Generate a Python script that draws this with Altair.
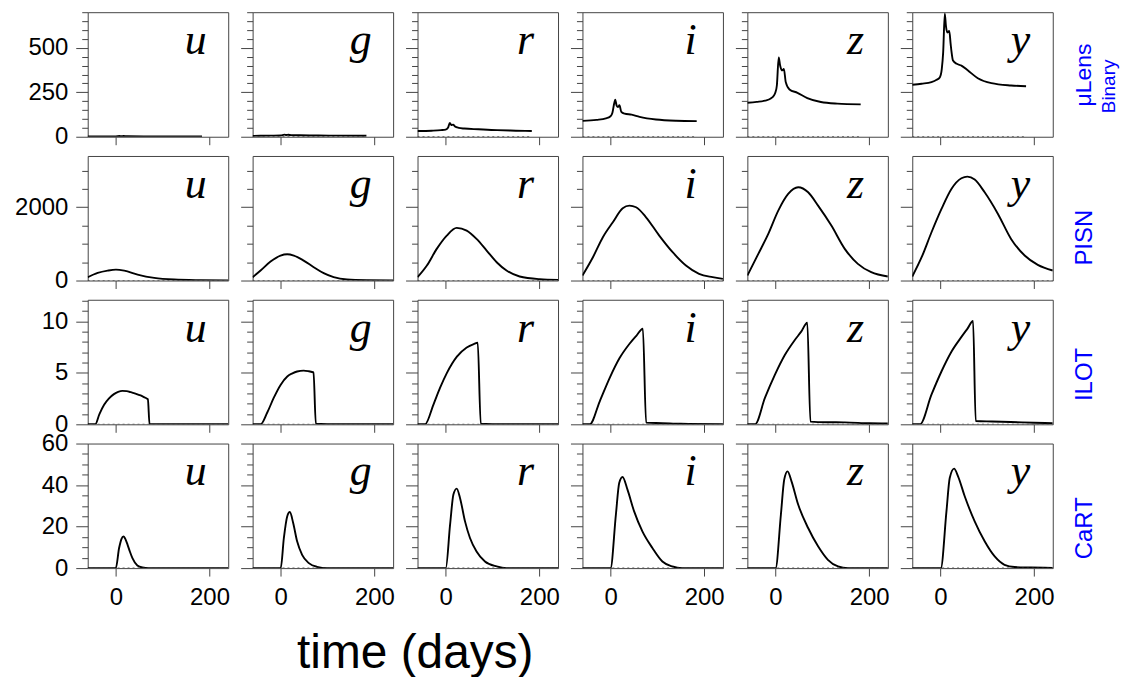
import altair as alt
import pandas as pd

bands = ["u", "g", "r", "i", "z", "y"]
row_labels = ["μLens", "PISN", "ILOT", "CaRT"]
row_sublabel = "Binary"
x_title = "time (days)"

x_domain = [-60, 240]
x_ticks = [0, 200]

y_domains = [[0, 700], [0, 3400], [0, 12.1], [0, 60]]
y_ticks = [
    [0, 50, 100, 150, 200, 250, 300, 350, 400, 450, 500, 550, 600, 650, 700],
    [0, 500, 1000, 1500, 2000, 2500, 3000],
    [0, 1, 2, 3, 4, 5, 6, 7, 8, 9, 10, 11, 12],
    [0, 5, 10, 15, 20, 25, 30, 35, 40, 45, 50, 55, 60],
]
y_major = [250, 2000, 5, 20]

# ---- muLens Binary ----
mulens_u_t = [-60, -20, 0, 8, 12, 16, 25, 60, 120, 184]
mulens_u_f = [1, 1.5, 2, 4, 3.5, 3.8, 2.5, 1.5, 1.2, 1]
mulens_g_t = [-60, -20, 0, 8, 12, 16, 22, 40, 80, 120, 183]
mulens_g_f = [5, 6, 7, 12, 10, 11, 9, 8, 7, 6, 5.5]
mulens_r_t = [-60, -30, -10, 0, 5, 9, 12, 16, 20, 28, 40, 70, 110, 150, 184]
mulens_r_f = [32, 34, 37, 40, 50, 78, 66, 68, 58, 50, 46, 42, 37, 34, 32]
mulens_i_t = [-60, -30, -10, 0, 4, 8, 10, 13, 16, 19, 23, 30, 45, 62, 97, 140, 184]
mulens_i_f = [89, 95, 103, 115, 135, 190, 208, 175, 167, 177, 140, 130, 124, 112, 97, 90, 88]
mulens_z_t = [-60, -40, -22, -10, -4, 0, 3, 7, 10, 14, 18, 22, 30, 47, 68, 97, 132, 182]
mulens_z_f = [191, 196, 203, 215, 229, 250, 288, 446, 400, 372, 381, 307, 266, 247, 217, 195, 186, 182]
mulens_y_t = [-60, -40, -19, -8, -1, 3, 6, 9.5, 12, 15, 19, 22, 24, 27, 35, 45, 59, 80, 109, 151, 183]
mulens_y_f = [292, 298, 307, 320, 335, 380, 474, 692, 620, 586, 595, 520, 474, 428, 410, 400, 372, 329, 301, 288, 284]

# ---- PISN ----
pisn_u_t = [-60, -38.7, -17.5, 0.3, 18, 46.5, 82, 124.5, 181, 240]
pisn_u_f = [90, 208, 271, 299, 271, 163, 72, 27, 9, 2]
pisn_g_t = [-60, -43, -21.7, -0.4, 13.8, 28, 49, 70.5, 91.8, 113, 141.5, 184, 240]
pisn_g_f = [91, 273, 518, 682, 718, 682, 545, 364, 200, 91, 27, 9, 3]
pisn_r_t = [-60, -40, -19, 2.4, 23.6, 44.9, 66, 87.6, 109, 130, 158, 201, 240]
pisn_r_f = [91, 409, 864, 1227, 1436, 1364, 1136, 818, 500, 273, 109, 36, 18]
pisn_i_t = [-60, -37.6, -16.4, 4.9, 26, 40.3, 54.5, 75.8, 104, 132.6, 161, 189, 218, 240]
pisn_i_f = [136, 636, 1182, 1591, 1973, 2045, 2000, 1727, 1227, 773, 409, 182, 91, 45]
pisn_z_t = [-60, -36.6, -15.3, 6, 27.2, 48.5, 69.8, 91, 119.4, 148, 176, 204.5, 240]
pisn_z_f = [136, 727, 1273, 1909, 2364, 2545, 2409, 2045, 1500, 864, 455, 227, 109]
pisn_y_t = [-60, -40, -18.9, 2.4, 23.6, 45, 57.7, 73.3, 94.6, 123, 151, 180, 208, 240]
pisn_y_f = [109, 636, 1318, 1955, 2500, 2791, 2836, 2755, 2409, 1818, 1136, 682, 427, 273]

# ---- ILOT ----
ilot_u_t = [-60, -44, -35, -25, -15, -4, 5, 14, 23, 32, 42, 53, 60, 67, 68.5, 72, 100, 240]
ilot_u_f = [0, 0, 1.0, 1.9, 2.5, 2.93, 3.15, 3.25, 3.22, 3.12, 2.98, 2.8, 2.65, 2.48, 2.45, 0, 0, 0]
ilot_g_t = [-60, -43, -29, -15, 0, 14, 25, 35, 49, 60, 70, 75, 100, 240]
ilot_g_f = [0, 0, 1.12, 2.56, 3.85, 4.65, 4.95, 5.13, 5.22, 5.15, 5.04, 0.05, 0.02, 0]
ilot_r_t = [-60, -44, -26, -12, 2.5, 24, 45, 60, 68.5, 75, 100, 240]
ilot_r_f = [0, 0, 1.92, 3.53, 4.97, 6.57, 7.47, 7.8, 7.92, 0.05, 0.02, 0]
ilot_i_t = [-60, -44.5, -23, -2, 19, 41, 55, 69, 76, 110, 150, 240]
ilot_i_f = [0, 0, 2.24, 4.49, 6.41, 7.85, 8.6, 9.29, 0.16, 0.12, 0.06, 0.02]
ilot_z_t = [-60, -43.7, -22.5, -1.3, 20, 41, 55, 68, 74.7, 110, 148, 200, 240]
ilot_z_f = [0, 0, 2.56, 4.8, 6.73, 8.17, 9.0, 9.87, 0.26, 0.2, 0.19, 0.1, 0.08]
ilot_y_t = [-60, -43.6, -19, 2.3, 23.6, 45, 58, 69.8, 75.5, 110, 150, 200, 240]
ilot_y_f = [0, 0, 2.88, 5.13, 7.05, 8.49, 9.3, 10.03, 0.32, 0.27, 0.22, 0.15, 0.1]

# ---- CaRT ----
cart_u_t = [-60, 0, 7, 12, 16.4, 20, 25, 30, 35.5, 46, 57, 70, 240]
cart_u_f = [0, 0, 9.65, 14, 15.3, 14.2, 11.3, 8, 4.8, 1.3, 0.3, 0, 0]
cart_g_t = [-60, 0, 6.7, 13.8, 19.5, 26.6, 35, 45.7, 60, 77.6, 99, 240]
cart_g_f = [0, 0, 14.5, 24.9, 27.0, 21.7, 12.9, 6.4, 2.4, 0.6, 0, 0]
cart_r_t = [-60, 0.3, 9.5, 16.6, 23.6, 30.7, 41.4, 52, 66, 84, 109, 130, 240]
cart_r_f = [0, 0, 20.9, 35.4, 38.3, 33.8, 22.5, 14.5, 8.0, 3.2, 0.8, 0, 0]
cart_i_t = [-60, 0, 11.4, 18.5, 25.6, 36.2, 50.4, 68, 89.4, 110.7, 132, 153, 240]
cart_i_f = [0, 0, 25.7, 41.0, 43.9, 37.8, 27.3, 17.7, 9.7, 3.2, 0.8, 0, 0]
cart_z_t = [-60, 0.3, 11.6, 18.7, 25.8, 34.3, 48.5, 69.8, 91, 112, 133.6, 155, 240]
cart_z_f = [0, 0, 25.7, 42.6, 46.6, 41.8, 30.6, 19.3, 10.5, 4.0, 0.8, 0, 0]
cart_y_t = [-60, 1, 13, 20, 29.3, 37.8, 52, 73.3, 94.6, 116, 137, 158.4, 194, 240]
cart_y_f = [0, 0, 27.3, 43.4, 47.9, 44.2, 34.6, 22.5, 12.9, 5.6, 1.6, 0.5, 0.3, 0.1]

curves = [
    [(mulens_u_t, mulens_u_f), (mulens_g_t, mulens_g_f), (mulens_r_t, mulens_r_f),
     (mulens_i_t, mulens_i_f), (mulens_z_t, mulens_z_f), (mulens_y_t, mulens_y_f)],
    [(pisn_u_t, pisn_u_f), (pisn_g_t, pisn_g_f), (pisn_r_t, pisn_r_f),
     (pisn_i_t, pisn_i_f), (pisn_z_t, pisn_z_f), (pisn_y_t, pisn_y_f)],
    [(ilot_u_t, ilot_u_f), (ilot_g_t, ilot_g_f), (ilot_r_t, ilot_r_f),
     (ilot_i_t, ilot_i_f), (ilot_z_t, ilot_z_f), (ilot_y_t, ilot_y_f)],
    [(cart_u_t, cart_u_f), (cart_g_t, cart_g_f), (cart_r_t, cart_r_f),
     (cart_i_t, cart_i_f), (cart_z_t, cart_z_f), (cart_y_t, cart_y_f)],
]

PW, PH = 141, 125
row_label_y = [62.5, 82, 75, 85]


def panel(r, c):
    t, f = curves[r][c]
    df = pd.DataFrame({"t": t, "f": f, "z": [0] * len(t)})
    major = y_major[r]
    xscale = alt.Scale(domain=x_domain, nice=False, zero=False)
    yscale = alt.Scale(domain=y_domains[r], nice=False, zero=False)
    xaxis = alt.Axis(values=x_ticks, title=None, labels=(r == 3), tickSize=8,
                     labelPadding=10, labelFlush=False, labelOverlap=False)
    yaxis = alt.Axis(
        values=y_ticks[r], title=None, labels=(c == 0), format="d",
        tickSize={"condition": {"test": f"datum.value % {major} === 0", "value": 12}, "value": 6},
        labelExpr=f"datum.value % {major} === 0 ? datum.label : ''",
        labelPadding=8, labelFlush=False, labelOverlap=False,
    )
    base = alt.Chart(df)
    line = base.mark_line(
        color="black", strokeWidth=1.9, interpolate="monotone", clip=True
    ).encode(x=alt.X("t:Q", scale=xscale, axis=xaxis),
             y=alt.Y("f:Q", scale=yscale, axis=yaxis))
    zero = base.mark_line(
        color="#333", strokeDash=[2, 3], strokeWidth=1, clip=True
    ).encode(x=alt.X("t:Q", scale=xscale, axis=xaxis),
             y=alt.Y("z:Q", scale=yscale, axis=yaxis))
    band = alt.Chart(pd.DataFrame({"b": [bands[c]]})).mark_text(
        font="Liberation Serif", fontStyle="italic", fontSize=44, color="black",
        align="center", baseline="alphabetic"
    ).encode(text="b:N", x=alt.value(108.5), y=alt.value(42))
    layers = [line, zero, band]
    if c == 5:
        if r == 0:
            layers.append(alt.Chart(pd.DataFrame({"s": [row_labels[r]]})).mark_text(
                font="Liberation Sans", fontSize=23, color="blue", angle=270,
                align="center", baseline="alphabetic"
            ).encode(text="s:N", x=alt.value(179), y=alt.value(63)))
            layers.append(alt.Chart(pd.DataFrame({"s": [row_sublabel]})).mark_text(
                font="Liberation Sans", fontSize=19, color="blue", angle=270,
                align="center", baseline="alphabetic"
            ).encode(text="s:N", x=alt.value(203), y=alt.value(74.5)))
        else:
            layers.append(alt.Chart(pd.DataFrame({"s": [row_labels[r]]})).mark_text(
                font="Liberation Sans", fontSize=24, color="blue", angle=270,
                align="center", baseline="alphabetic"
            ).encode(text="s:N", x=alt.value(180), y=alt.value(row_label_y[r])))
    if r == 3 and c == 2:
        layers.append(alt.Chart(pd.DataFrame({"s": [x_title]})).mark_text(
            font="Liberation Sans", fontSize=48, color="black",
            align="center", baseline="alphabetic"
        ).encode(text="s:N", x=alt.value(-2.3), y=alt.value(225)))
    return alt.layer(*layers).properties(width=PW, height=PH)


panels = [panel(r, c) for r in range(4) for c in range(6)]

chart = alt.concat(
    *panels, columns=6, spacing={"row": 19.3, "column": 24.5}, bounds="flush"
).properties(
    padding={"left": 6, "top": -10, "right": 5, "bottom": 0},
    background="white",
).configure_view(
    stroke="#444", strokeWidth=1
).configure_axis(
    labelFont="Liberation Sans", labelFontSize=24, labelColor="black",
    tickColor="#444", tickWidth=1, domain=False, grid=False,
)

chart.save("out.html", embed_options={"renderer": "svg", "actions": False})
